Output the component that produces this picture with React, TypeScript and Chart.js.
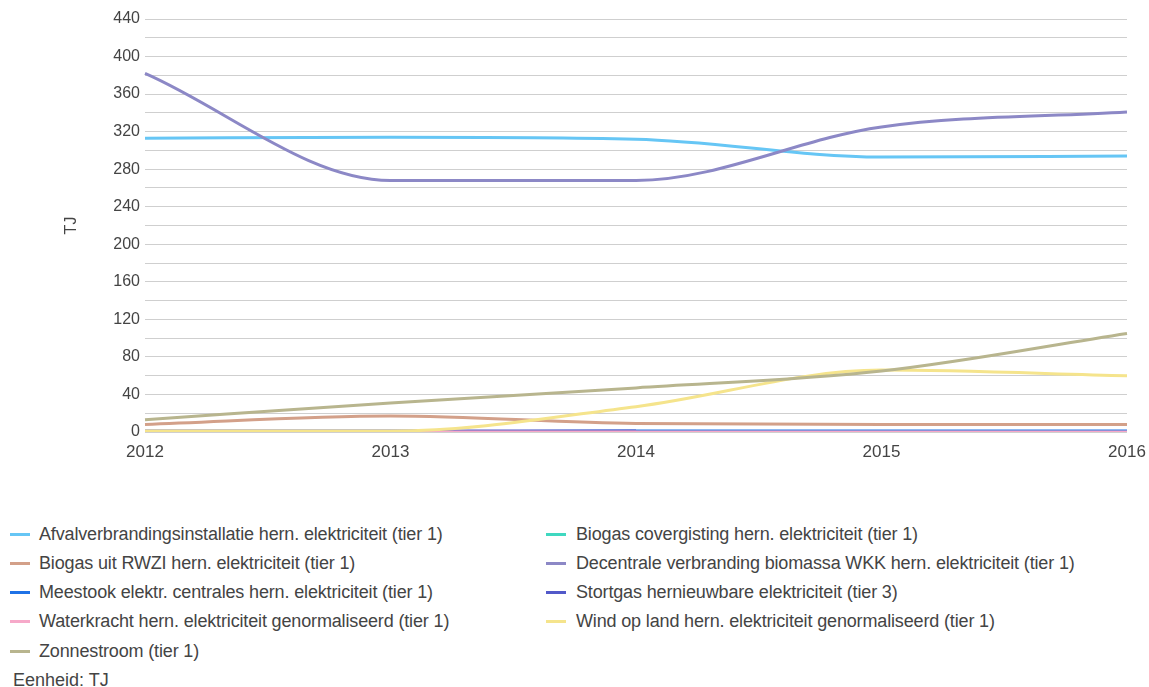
import React, { useEffect, useRef } from "react";
import { Chart, registerables } from "chart.js";

Chart.register(...registerables);

const years = ["2012", "2013", "2014", "2015", "2016"];

const seriesNames = [
  "Afvalverbrandingsinstallatie hern. elektriciteit (tier 1)",
  "Biogas covergisting hern. elektriciteit (tier 1)",
  "Biogas uit RWZI hern. elektriciteit (tier 1)",
  "Decentrale verbranding biomassa WKK hern. elektriciteit (tier 1)",
  "Meestook elektr. centrales hern. elektriciteit (tier 1)",
  "Stortgas hernieuwbare elektriciteit (tier 3)",
  "Waterkracht hern. elektriciteit genormaliseerd (tier 1)",
  "Wind op land hern. elektriciteit genormaliseerd (tier 1)",
  "Zonnestroom (tier 1)",
];

const afval = [313, 314, 312, 293, 294];
const biogasCovergisting = [0, 0, 0, 0, 0];
const biogasRwzi = [8, 17, 9, 8, 8];
const decentrale = [382, 268, 268, 325, 341];
const meestook = [0, 0, 1, 1, 1];
const stortgas = [1, 1, 1, null, null];
const waterkracht = [0, 0, 0, 0, 0];
const wind = [1, 1, 27, 66, 60];
const zonnestroom = [13, 31, 47, 65, 105];

const seriesValues = [afval, biogasCovergisting, biogasRwzi, decentrale, meestook, stortgas, waterkracht, wind, zonnestroom];

const colors = ["#66c6f5", "#3fd8c0", "#d3a089", "#8c88c6", "#1f72e6", "#5259c9", "#f6a9c9", "#f5e48c", "#b8b58e"];

const yMin = 0;
const yMax = 440;
const yStep = 20;
const yLabelStep = 40;

const FONT = "'Liberation Sans', Arial, sans-serif";

export default function App() {
  const ref = useRef<HTMLCanvasElement>(null);

  useEffect(() => {
    if (!ref.current) return;
    const chart = new Chart(ref.current, {
      type: "line",
      data: {
        labels: years,
        datasets: seriesNames.map((name, i) => ({
          label: name,
          data: seriesValues[i],
          borderColor: colors[i],
          backgroundColor: colors[i],
          borderWidth: 3,
          pointRadius: 0,
          cubicInterpolationMode: "monotone" as const,
          fill: false,
          order: seriesNames.length - i,
        })),
      },
      options: {
        animation: false,
        responsive: false,
        maintainAspectRatio: false,
        layout: { padding: { top: 19, right: 22, bottom: 0, left: 0 } },
        plugins: {
          legend: { display: false },
          tooltip: { enabled: false },
        },
        scales: {
          x: {
            grid: { display: false, drawTicks: false },
            border: { display: false },
            ticks: {
              color: "#444",
              font: { family: FONT, size: 17 },
              padding: 10,
              maxRotation: 0,
            },
            afterFit: (scale: any) => {
              scale.height = 38;
              scale.paddingLeft = 0;
              scale.paddingRight = 0;
            },
          },
          y: {
            min: yMin,
            max: yMax,
            grid: { color: "#cfcfcf", lineWidth: 1, drawTicks: false },
            border: { display: false },
            ticks: {
              stepSize: yStep,
              color: "#444",
              font: { family: FONT, size: 16 },
              padding: 5,
              autoSkip: false,
              callback: (v: any) => (Number(v) % yLabelStep === 0 ? String(v) : ""),
            },
            title: {
              display: true,
              text: "TJ",
              color: "#444",
              font: { family: FONT, size: 16 },
              padding: { top: 62, bottom: 0 },
            },
            afterFit: (scale: any) => {
              scale.width = 145;
            },
          },
        },
      },
    });
    return () => chart.destroy();
  }, []);

  const rows: number[] = [534, 563, 592, 621, 651];
  const legendItems = seriesNames.map((name, i) => {
    const col = i % 2;
    const row = Math.floor(i / 2);
    const lineLeft = col === 0 ? 10 : 546;
    const textLeft = col === 0 ? 39 : 576;
    const cy = rows[row];
    return (
      <React.Fragment key={name}>
        <div
          style={{
            position: "absolute",
            left: lineLeft,
            top: cy - 1.5,
            width: 20,
            height: 3,
            background: colors[i],
          }}
        />
        <div
          style={{
            position: "absolute",
            left: textLeft,
            top: cy - 10,
            height: 20,
            lineHeight: "20px",
            fontFamily: FONT,
            fontSize: 18,
            color: "#444",
            whiteSpace: "nowrap",
            letterSpacing: "-0.15px",
          }}
        >
          {name}
        </div>
      </React.Fragment>
    );
  });

  return (
    <div style={{ position: "absolute", left: 0, top: 0, width: 1149, height: 687, background: "#fff" }}>
      <canvas ref={ref} width={1149} height={470} style={{ position: "absolute", left: 0, top: 0, width: 1149, height: 470 }} />
      {legendItems}
      <div
        style={{
          position: "absolute",
          left: 13,
          top: 670,
          height: 20,
          lineHeight: "20px",
          fontFamily: FONT,
          fontSize: 18,
          color: "#444",
          whiteSpace: "nowrap",
        }}
      >
        Eenheid: TJ
      </div>
    </div>
  );
}
